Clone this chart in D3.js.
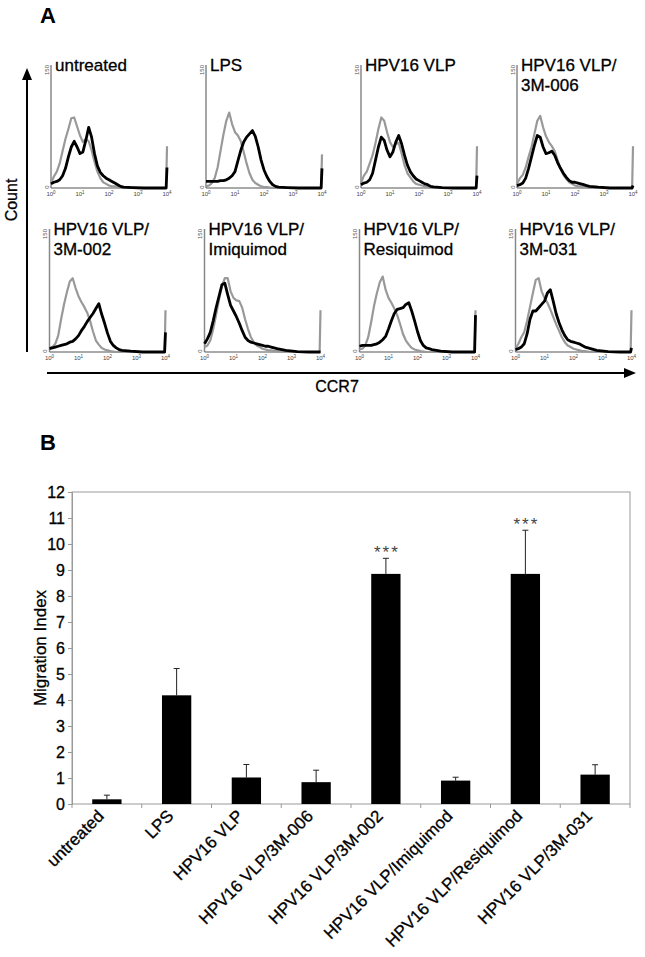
<!DOCTYPE html>
<html>
<head>
<meta charset="utf-8">
<script src="https://cdn.jsdelivr.net/npm/d3@7"></script>
<style>
  body { margin: 0; background: #fff; }
  svg { font-family: "Liberation Sans", Arial, sans-serif; }
  .heavy { stroke: #000; stroke-width: 0.3px; }
</style>
</head>
<body>
<svg id="fig" width="645" height="957"></svg>
<script>
// ---- panel A: CCR7 histograms (x in log decades, y in counts) ----
const bins = [0, 0.1, 0.2, 0.3, 0.4, 0.5, 0.6, 0.7, 0.8, 0.9, 1.0, 1.1, 1.2, 1.3, 1.4, 1.5,
  1.6, 1.7, 1.8, 1.9, 2.0, 2.1, 2.2, 2.3, 2.4, 2.5, 2.8, 3.2, 3.6, 3.97, 4.0];
const decadeTicks = [0, 1, 2, 3, 4];
const countTicks = [0, 150];
const panelTitles = [
  ["untreated"], ["LPS"], ["HPV16 VLP"], ["HPV16 VLP/", "3M-006"],
  ["HPV16 VLP/", "3M-002"], ["HPV16 VLP/", "Imiquimod"], ["HPV16 VLP/", "Resiquimod"], ["HPV16 VLP/", "3M-031"]
];
// isotype control (grey)
const isotype = [
  [6,14,20,30,45,60,72,85,86,75,64,56,60,57,46,32,20,12,7,5,3,2,2,1,1,1,0.5,0,0,0,51],
  [2,3,6,12,25,45,65,82,92,78,68,64,57,44,30,18,10,6,4,2,1,1,0.5,0,0,0,0,0,0,0,41],
  [6,15,20,30,40,55,72,86,82,68,56,50,54,55,42,28,18,13,8,5,4,3,2,1,1,0.5,0,0,0,0,51],
  [5,12,16,25,38,50,66,82,88,74,63,56,51,45,34,24,16,11,7,5,3,2,2,1,1,0.5,0,0,0,0,51],
  [5,6,10,20,40,58,73,86,90,78,68,61,55,48,38,25,14,9,5,3,2,1,0.5,0,0,0,0,0,0,0,51],
  [6,8,14,28,45,64,80,90,90,74,66,63,62,54,40,28,18,12,8,6,4,3,2,2,1,1,0.5,0,0,0,51],
  [3,4,8,18,36,56,72,85,92,76,66,60,53,45,34,22,14,9,5,3,2,1,0.5,0,0,0,0,0,0,0,51],
  [4,10,18,24,38,55,72,88,90,74,66,60,52,43,34,26,18,12,8,6,4,3,2,1,1,0.5,0,0,0,0,51]
];
// CCR7 staining (black)
const ccr7 = [
  [5,7,8,10,15,24,38,50,57,50,42,44,58,74,62,42,27,19,15,12,10,8,6,4,2,1,0.5,0,0,0,25],
  [8,8,8,8,8,9,9,10,12,15,20,33,46,56,62,66,70,63,50,34,22,14,8,4,2,1,0.5,0,0,0,24],
  [4,6,7,10,18,34,50,62,58,46,38,44,56,64,54,40,28,20,15,11,9,7,5,4,2,1.5,0.5,0,0,0,15],
  [3,4,6,12,24,38,52,64,62,50,42,43,45,40,31,24,18,13,9,7,7,6,5,4,3,2,1,0,0,0,3],
  [4,5,6,7,8,9,10,12,13,16,20,26,31,37,42,47,53,59,46,35,23,13,8,5,3,2,1,0,0,0,24],
  [10,16,24,38,54,68,82,84,70,57,50,43,35,26,18,14,12,11,10,9,8,7,7,6,5,4,2,0.5,0,0,0],
  [7,8,8,8,8,9,10,12,15,19,28,38,47,52,53,54,58,60,50,38,25,14,8,5,4,3,1,0,0,0,45],
  [3,4,6,10,22,40,50,50,54,58,62,72,76,62,47,36,27,20,15,13,12,11,10,8,6,5,2,0.5,0,0,5]
];

// ---- panel B: migration index ----
const groups = ["untreated", "LPS", "HPV16 VLP", "HPV16 VLP/3M-006", "HPV16 VLP/3M-002",
  "HPV16 VLP/Imiquimod", "HPV16 VLP/Resiquimod", "HPV16 VLP/3M-031"];
const migration = [0.18, 4.18, 1.02, 0.84, 8.85, 0.9, 8.85, 1.13];
const migrationErr = [0.16, 1.03, 0.5, 0.46, 0.6, 0.13, 1.68, 0.38];
const signif = ["", "", "", "", "***", "", "***", ""];
const migrationTicks = [0, 1, 2, 3, 4, 5, 6, 7, 8, 9, 10, 11, 12];

const svg = d3.select("#fig");

// ---------- A ----------
svg.append("text").attr("x", 40).attr("y", 23).attr("font-size", 22).attr("font-weight", "bold").text("A");

const colLeft = [51, 206, 361, 517];
const rowTop = [65, 229];
const pw = 116, ph = 123;

panelTitles.forEach((title, i) => {
  const r = Math.floor(i / 4), c = i % 4;
  const left = colLeft[c] - (r === 1 ? 1.5 : 0);
  const top = rowTop[r];
  const x = d3.scaleLinear().domain([0, 4]).range([left, left + pw]);
  const y = d3.scaleLinear().domain([0, 150]).range([top + ph, top]);
  const g = svg.append("g");

  // axes
  g.append("line").attr("x1", left).attr("x2", left).attr("y1", y(150)).attr("y2", y(0))
    .attr("stroke", "#888").attr("stroke-width", 1.5);
  g.append("line").attr("x1", left).attr("x2", left + pw).attr("y1", y(0)).attr("y2", y(0))
    .attr("stroke", "#555").attr("stroke-width", 1);

  decadeTicks.forEach(d => {
    const t = g.append("text").attr("x", x(d)).attr("y", y(0) + 8)
      .attr("text-anchor", "middle").attr("font-size", 6).attr("fill", "#444");
    t.append("tspan").text("10");
    t.append("tspan").attr("dy", -2.5).attr("font-size", 4.5).text(d);
  });
  countTicks.forEach(v => {
    g.append("text")
      .attr("transform", `translate(${left - 2.5},${v ? y(v) + 5 : y(v) - 1}) rotate(-90)`)
      .attr("text-anchor", "middle").attr("font-size", 6).attr("fill", "#555").text(v);
  });

  const line = d3.line().x((d, k) => x(bins[k])).y(d => y(d));
  g.append("path").datum(isotype[i]).attr("d", line)
    .attr("fill", "none").attr("stroke", "#999").attr("stroke-width", 2.2).attr("stroke-linejoin", "round");
  g.append("path").datum(ccr7[i]).attr("d", line)
    .attr("fill", "none").attr("stroke", "#000").attr("stroke-width", 2.8).attr("stroke-linejoin", "round");

  title.forEach((t, k) => {
    g.append("text").attr("class", "heavy").attr("x", left + 4).attr("y", top + 6 + k * 20)
      .attr("font-size", 17).text(t);
  });
});

// Count / CCR7 arrows
svg.append("line").attr("x1", 27).attr("x2", 27).attr("y1", 352).attr("y2", 78)
  .attr("stroke", "#000").attr("stroke-width", 2);
svg.append("path").attr("d", "M27,68 L22,80 L32,80 Z").attr("fill", "#000");
svg.append("text").attr("class", "heavy").attr("transform", "translate(17,200) rotate(-90)")
  .attr("text-anchor", "middle").attr("font-size", 16).text("Count");

svg.append("line").attr("x1", 47).attr("x2", 625).attr("y1", 373).attr("y2", 373)
  .attr("stroke", "#000").attr("stroke-width", 2);
svg.append("path").attr("d", "M636,373 L624,368 L624,378 Z").attr("fill", "#000");
svg.append("text").attr("class", "heavy").attr("x", 337).attr("y", 392).attr("text-anchor", "middle")
  .attr("font-size", 16).text("CCR7");

// ---------- B ----------
svg.append("text").attr("x", 40).attr("y", 450).attr("font-size", 22).attr("font-weight", "bold").text("B");

const bx = d3.scaleBand().domain(groups).range([72, 630]).paddingInner(0.58).paddingOuter(0.29);
const by = d3.scaleLinear().domain([0, 12]).range([804, 492]);

svg.append("rect").attr("x", 72).attr("y", by(12)).attr("width", 630 - 72).attr("height", by(0) - by(12))
  .attr("fill", "none").attr("stroke", "#999").attr("stroke-width", 1);

const yAxis = svg.append("g").attr("transform", "translate(72,0)")
  .call(d3.axisLeft(by).tickValues(migrationTicks).tickSize(4).tickPadding(3));
yAxis.select(".domain").attr("stroke", "#999");
yAxis.selectAll(".tick line").attr("stroke", "#999");
yAxis.selectAll(".tick text").attr("class", "heavy").attr("font-size", 16).attr("fill", "#000")
  .attr("font-family", "Liberation Sans, Arial, sans-serif");

svg.append("text").attr("class", "heavy").attr("transform", "translate(46,648) rotate(-90)")
  .attr("text-anchor", "middle").attr("font-size", 17).text("Migration Index");

// category boundary ticks
const gap = (bx.step() - bx.bandwidth()) / 2;
groups.forEach(gname => {
  const bxl = bx(gname) - gap;
  svg.append("line").attr("x1", bxl).attr("x2", bxl).attr("y1", by(0)).attr("y2", by(0) + 4)
    .attr("stroke", "#999");
});
svg.append("line").attr("x1", 630).attr("x2", 630).attr("y1", by(0)).attr("y2", by(0) + 4).attr("stroke", "#999");

// error bars
groups.forEach((gname, i) => {
  const cx = bx(gname) + bx.bandwidth() / 2;
  const yt = by(migration[i] + migrationErr[i]);
  svg.append("line").attr("x1", cx).attr("x2", cx).attr("y1", by(migration[i])).attr("y2", yt)
    .attr("stroke", "#222").attr("stroke-width", 1);
  svg.append("line").attr("x1", cx - 3).attr("x2", cx + 3).attr("y1", yt).attr("y2", yt)
    .attr("stroke", "#222").attr("stroke-width", 1);
  if (signif[i]) {
    svg.append("text").attr("x", cx + 1).attr("y", yt).attr("text-anchor", "middle")
      .attr("font-size", 17).attr("letter-spacing", 2).attr("fill", "#444").text(signif[i]);
  }
});

svg.selectAll(".bar").data(groups).enter().append("rect")
  .attr("class", "bar")
  .attr("x", d => bx(d))
  .attr("width", bx.bandwidth())
  .attr("y", (d, i) => by(migration[i]))
  .attr("height", (d, i) => by(0) - by(migration[i]))
  .attr("fill", "#000");

// rotated category labels
groups.forEach(gname => {
  const cx = bx(gname) + bx.bandwidth() / 2;
  svg.append("text").attr("class", "heavy")
    .attr("transform", `translate(${cx - 2},${by(0) + 13}) rotate(-45)`)
    .attr("text-anchor", "end").attr("font-size", 17).text(gname);
});
</script>
</body>
</html>
